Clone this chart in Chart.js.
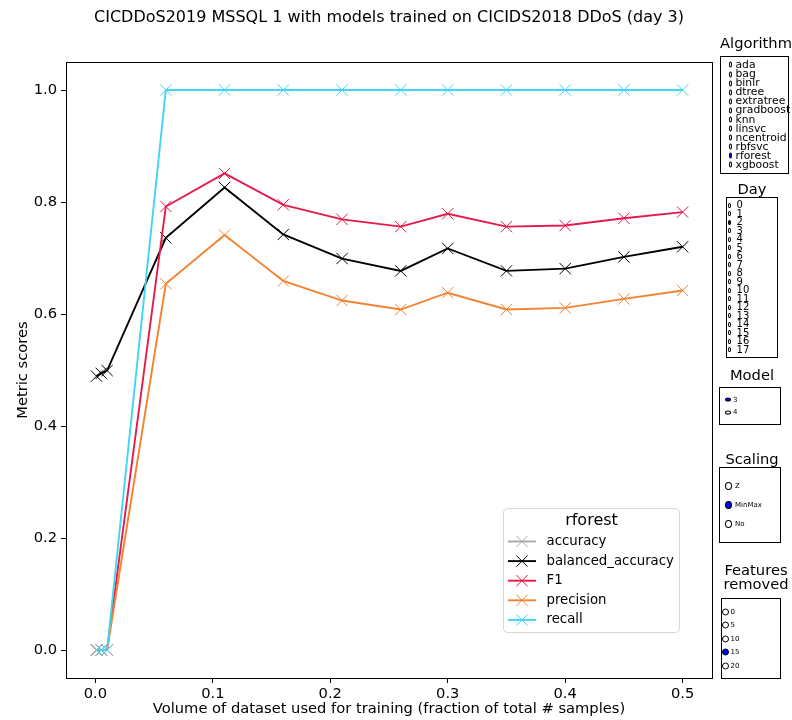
<!DOCTYPE html>
<html><head><meta charset="utf-8">
<script src="https://cdn.jsdelivr.net/npm/chart.js@4/dist/chart.umd.min.js"></script>
<style>
body{margin:0;background:#fff;font-family:"DejaVu Sans",sans-serif;}
#wrap{position:relative;width:792px;height:720px;overflow:hidden;}
#c{position:absolute;left:0;top:0;}
.ptitle{position:absolute;font-size:14.7px;color:#000;white-space:nowrap;transform:translate(-50%,-50%);line-height:1.1;text-align:center;}
.box{position:absolute;border:1px solid #000;box-sizing:border-box;background:#fff;}
.item{position:absolute;display:flex;align-items:center;white-space:nowrap;color:#000;transform:translateY(-50%);}
.dot{display:inline-block;border:1px solid #000;border-radius:50%;box-sizing:border-box;background:#fff;flex:none;}
.dot.on{background:#0000ff;}
</style>
</head><body>
<div id="wrap"><canvas id="c" width="792" height="720"></canvas></div>
<script>
// ---- data ----
const xValues = [0.001, 0.005, 0.01, 0.06, 0.11, 0.16, 0.21, 0.26, 0.30, 0.35, 0.40, 0.45, 0.50];
const accuracy = [null, null, null, null, null, null, null, null, null, null, null, null, null];
const balancedAccuracy = [0.489, 0.494, 0.499, 0.736, 0.826, 0.742, 0.699, 0.677, 0.717, 0.677, 0.681, 0.702, 0.720];
const f1 = [0, 0, 0, 0.792, 0.851, 0.795, 0.769, 0.756, 0.779, 0.756, 0.758, 0.771, 0.782];
const precision = [0, 0, 0, 0.654, 0.741, 0.659, 0.624, 0.608, 0.638, 0.608, 0.611, 0.627, 0.642];
const recall = [0, 0, 0, 1, 1, 1, 1, 1, 1, 1, 1, 1, 1];
const seriesNames = ["accuracy", "balanced_accuracy", "F1", "precision", "recall"];
const xTicks = [0.0, 0.1, 0.2, 0.3, 0.4, 0.5];
const yTicks = [0.0, 0.2, 0.4, 0.6, 0.8, 1.0];
const titleText = "CICDDoS2019 MSSQL 1 with models trained on CICIDS2018 DDoS (day 3)";
const xLabel = "Volume of dataset used for training (fraction of total # samples)";
const yLabel = "Metric scores";
const legendTitle = "rforest";

const algorithms = ["ada","bag","binlr","dtree","extratree","gradboost","knn","linsvc","ncentroid","rbfsvc","rforest","xgboost"];
const days = ["0","1","2","3","4","5","6","7","8","9","10","11","12","13","14","15","16","17"];
const models = ["3","4"];
const scalings = ["Z","MinMax","No"];
const featuresRemoved = ["0","5","10","15","20"];

// ---- chart ----
const FONT = '"DejaVu Sans", sans-serif';
const colors = ["#a9a9a9", "#000000", "#e6194b", "#f58231", "#42d4f4"];
const seriesData = [accuracy, balancedAccuracy, f1, precision, recall];

const datasets = seriesNames.map((name, i) => ({
  label: name,
  data: xValues.map((x, j) => ({x: x, y: seriesData[i][j]})),
  borderColor: colors[i],
  backgroundColor: colors[i],
  borderWidth: 1.9,
  pointStyle: 'crossRot',
  pointRadius: 8,
  pointHoverRadius: 8,
  pointBorderWidth: 1,
  pointBorderColor: colors[i],
  fill: false,
  tension: 0,
  order: seriesNames.length - i
}));

const decor = {
  id: 'decor',
  afterDraw(chart) {
    const ctx = chart.ctx, a = chart.chartArea;
    ctx.save();
    ctx.strokeStyle = '#000'; ctx.lineWidth = 1;
    ctx.strokeRect(Math.round(a.left)+0.5, Math.round(a.top)+0.5, Math.round(a.right-a.left), Math.round(a.bottom-a.top));
    ctx.fillStyle = '#000';
    ctx.textAlign = 'center'; ctx.textBaseline = 'middle';
    ctx.font = '16px ' + FONT;
    ctx.fillText(titleText, (a.left+a.right)/2, 18);
    ctx.font = '14.7px ' + FONT;
    ctx.fillText(xLabel, (a.left+a.right)/2, 709);
    ctx.save();
    ctx.translate(23, (a.top+a.bottom)/2);
    ctx.rotate(-Math.PI/2);
    ctx.fillText(yLabel, 0, 0);
    ctx.restore();

    // legend
    const lx = 503.5, ly = 508.5, lw = 176, lh = 124;
    ctx.beginPath();
    ctx.roundRect(lx, ly, lw, lh, 4);
    ctx.fillStyle = 'rgba(255,255,255,0.8)';
    ctx.fill();
    ctx.strokeStyle = '#d6d6d6';
    ctx.stroke();
    ctx.fillStyle = '#000';
    ctx.font = '16px ' + FONT;
    ctx.textAlign = 'center';
    ctx.fillText(legendTitle, lx + lw/2, 521);
    ctx.font = '13.3px ' + FONT;
    ctx.textAlign = 'left';
    chart.data.datasets.forEach((ds, i) => {
      const y = 541.5 + i * 19.6;
      ctx.strokeStyle = ds.borderColor;
      ctx.lineWidth = 1.9;
      ctx.beginPath(); ctx.moveTo(508, y); ctx.lineTo(536, y); ctx.stroke();
      ctx.lineWidth = 1;
      const o = 5.6;
      ctx.beginPath();
      ctx.moveTo(522-o, y-o); ctx.lineTo(522+o, y+o);
      ctx.moveTo(522-o, y+o); ctx.lineTo(522+o, y-o);
      ctx.stroke();
      ctx.fillStyle = '#000';
      ctx.fillText(ds.label, 546.5, y);
    });
    ctx.restore();
  }
};

new Chart(document.getElementById('c'), {
  type: 'line',
  data: { datasets },
  options: {
    responsive: false,
    animation: false,
    devicePixelRatio: 1,
    layout: { padding: { left: 0, right: 80, top: 62, bottom: 0 } },
    plugins: { legend: { display: false }, title: { display: false }, tooltip: { enabled: false } },
    scales: {
      x: {
        type: 'linear', min: -0.025, max: 0.525,
        afterBuildTicks: s => { s.ticks = xTicks.map(v => ({value: v})); },
        afterFit: s => { s.height = 42; },
        grid: { drawOnChartArea: false, drawTicks: true, tickLength: 5, color: '#000' },
        border: { display: true, color: '#000', width: 1 },
        ticks: { color: '#000', font: { family: FONT, size: 14.7 }, padding: 2, maxRotation: 0,
                 callback: v => Number(v).toFixed(1) }
      },
      y: {
        type: 'linear', min: -0.05, max: 1.05,
        afterBuildTicks: s => { s.ticks = yTicks.map(v => ({value: v})); },
        afterFit: s => { s.width = 66; },
        grid: { drawOnChartArea: false, drawTicks: true, tickLength: 5, color: '#000' },
        border: { display: true, color: '#000', width: 1 },
        ticks: { color: '#000', font: { family: FONT, size: 14.7 }, padding: 4,
                 callback: v => Number(v).toFixed(1) }
      }
    }
  },
  plugins: [decor]
});

// ---- side panels ----
const wrap = document.getElementById('wrap');
function el(cls, style, html) {
  const d = document.createElement('div'); d.className = cls;
  Object.assign(d.style, style); if (html !== undefined) d.innerHTML = html;
  wrap.appendChild(d); return d;
}
function panel(titleLines, titleY, box, items, selected, opt) {
  titleLines.forEach((t, i) => el('ptitle', {left: opt.tx + 'px', top: (titleY + i*13.5) + 'px'}, t));
  el('box', {left: box[0]+'px', top: box[1]+'px', width: box[2]+'px', height: box[3]+'px'});
  const dy = box[3] / (items.length + 1);
  items.forEach((name, i) => {
    const it = el('item', {left: opt.cx + 'px', top: (box[1] + (i + 1) * dy) + 'px', fontSize: opt.fs + 'px', lineHeight: opt.fs + 'px'});
    const dot = document.createElement('span');
    dot.className = 'dot' + (name === selected ? ' on' : '');
    dot.style.width = opt.dw + 'px'; dot.style.height = opt.dh + 'px';
    dot.style.marginRight = opt.gap + 'px';
    it.appendChild(dot);
    const s = document.createElement('span'); s.textContent = name; it.appendChild(s);
  });
}
panel(["Algorithm"], 43, [720, 56, 69, 118], algorithms, "rforest",
      {tx: 756, cx: 728.5, fs: 10.8, dw: 3, dh: 6, gap: 4});
panel(["Day"], 189, [726, 197, 52, 161], days, "2",
      {tx: 752, cx: 728, fs: 10, dw: 2.6, dh: 5, gap: 6});
panel(["Model"], 375, [719, 387, 62, 38], models, "3",
      {tx: 752, cx: 725, fs: 7, dw: 6, dh: 4, gap: 2});
panel(["Scaling"], 459, [719, 467, 62, 76], scalings, "MinMax",
      {tx: 752, cx: 725, fs: 7, dw: 7, dh: 8, gap: 3});
panel(["Features", "removed"], 570, [721, 598, 60, 81], featuresRemoved, "15",
      {tx: 756, cx: 721.5, fs: 7, dw: 7, dh: 7, gap: 2});
</script>
</body></html>
